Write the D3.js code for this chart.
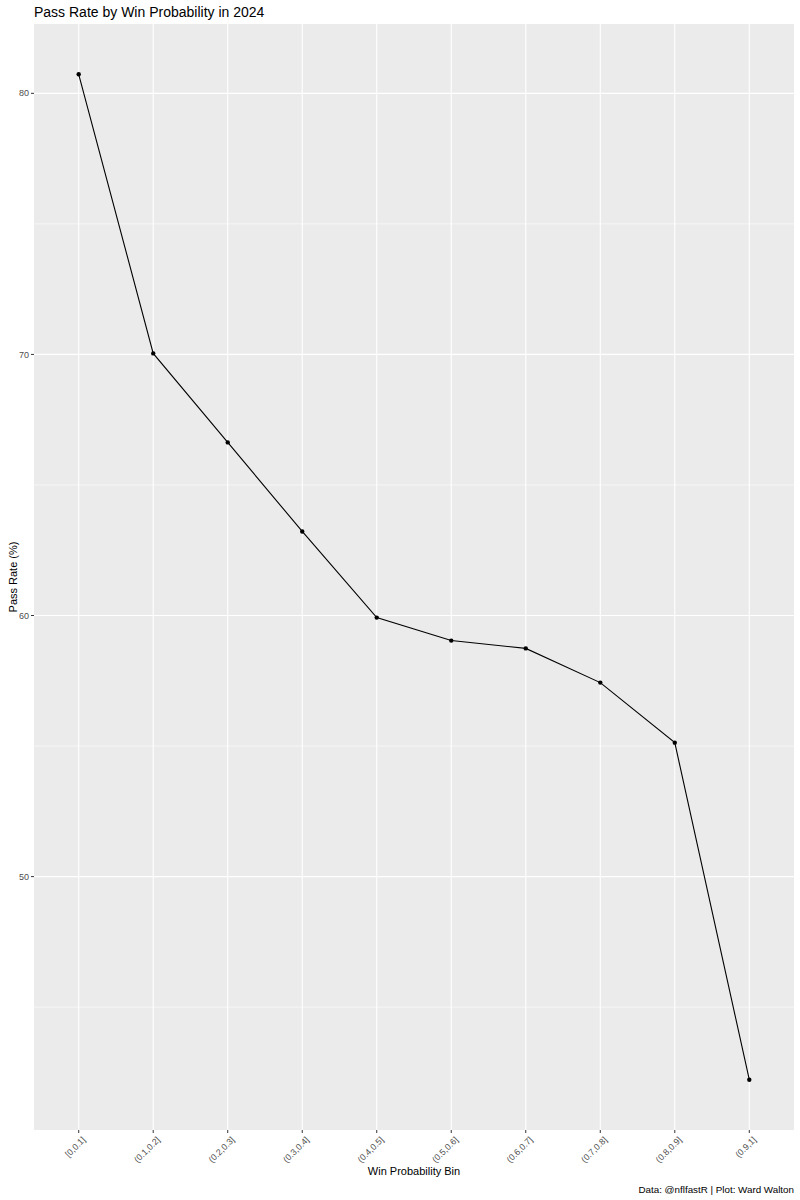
<!DOCTYPE html>
<html><head><meta charset="utf-8">
<script src="https://cdn.jsdelivr.net/npm/d3@7"></script>
<style>body{margin:0;background:#fff}svg{display:block}text{font-family:"Liberation Sans",Arial,sans-serif}</style>
</head><body><svg id="c" width="800" height="1200"></svg>
<script>
const bins = ["[0,0.1]","(0.1,0.2]","(0.2,0.3]","(0.3,0.4]","(0.4,0.5]","(0.5,0.6]","(0.6,0.7]","(0.7,0.8]","(0.8,0.9]","(0.9,1]"];
const passRate = [80.73, 70.04, 66.63, 63.22, 59.92, 59.04, 58.74, 57.43, 55.13, 42.22];
const yTicks = [50, 60, 70, 80];
const yMinor = [45, 55, 65, 75];

const svg = d3.select("#c");
const L = 34, R = 794, T = 24, B = 1130;
const ext = d3.extent(passRate), pad = (ext[1]-ext[0])*0.05;
const y = d3.scaleLinear().domain([ext[0]-pad, ext[1]+pad]).range([B, T]);
const xi = d3.scaleLinear().domain([-0.6, bins.length-1+0.6]).range([L, R]);
const x = b => xi(bins.indexOf(b));

svg.append("rect").attr("x",L).attr("y",T).attr("width",R-L).attr("height",B-T).attr("fill","#EBEBEB");
const g = svg.append("g");
yMinor.forEach(v=>g.append("line").attr("x1",L).attr("x2",R).attr("y1",y(v)).attr("y2",y(v)).attr("stroke","#fff").attr("stroke-width",0.55));
yTicks.forEach(v=>g.append("line").attr("x1",L).attr("x2",R).attr("y1",y(v)).attr("y2",y(v)).attr("stroke","#fff").attr("stroke-width",1.1));
bins.forEach(b=>g.append("line").attr("x1",x(b)).attr("x2",x(b)).attr("y1",T).attr("y2",B).attr("stroke","#fff").attr("stroke-width",1.1));

// y axis
yTicks.forEach(v=>{
  svg.append("line").attr("x1",L-3).attr("x2",L).attr("y1",y(v)).attr("y2",y(v)).attr("stroke","#333").attr("stroke-width",1);
  svg.append("text").attr("x",L-5).attr("y",y(v)).attr("dy","0.35em").attr("text-anchor","end").attr("font-size",9).attr("fill","#4D4D4D").text(v);
});
// x axis
bins.forEach(b=>{
  svg.append("line").attr("x1",x(b)).attr("x2",x(b)).attr("y1",B).attr("y2",B+3).attr("stroke","#333").attr("stroke-width",1);
  svg.append("text").attr("transform",`translate(${x(b)+3},${B+6}) rotate(-45)`).attr("text-anchor","end").attr("dy","0.7em").attr("font-size",8.8).attr("fill","#4D4D4D").text(b);
});

const line = d3.line().x((d,i)=>x(bins[i])).y(d=>y(d));
svg.append("path").datum(passRate).attr("d",line).attr("fill","none").attr("stroke","#000").attr("stroke-width",1.1);
svg.selectAll("circle.p").data(passRate).join("circle").attr("cx",(d,i)=>x(bins[i])).attr("cy",d=>y(d)).attr("r",2.2).attr("fill","#000");

svg.append("text").attr("x",L).attr("y",17).attr("font-size",14).attr("fill","#000").text("Pass Rate by Win Probability in 2024");
svg.append("text").attr("x",(L+R)/2).attr("y",1175).attr("text-anchor","middle").attr("font-size",11).attr("fill","#000").text("Win Probability Bin");
svg.append("text").attr("transform",`translate(17,${(T+B)/2}) rotate(-90)`).attr("text-anchor","middle").attr("font-size",11).attr("fill","#000").text("Pass Rate (%)");
svg.append("text").attr("x",R).attr("y",1193).attr("text-anchor","end").attr("font-size",9.8).attr("fill","#000").text("Data: @nflfastR | Plot: Ward Walton");
</script></body></html>
